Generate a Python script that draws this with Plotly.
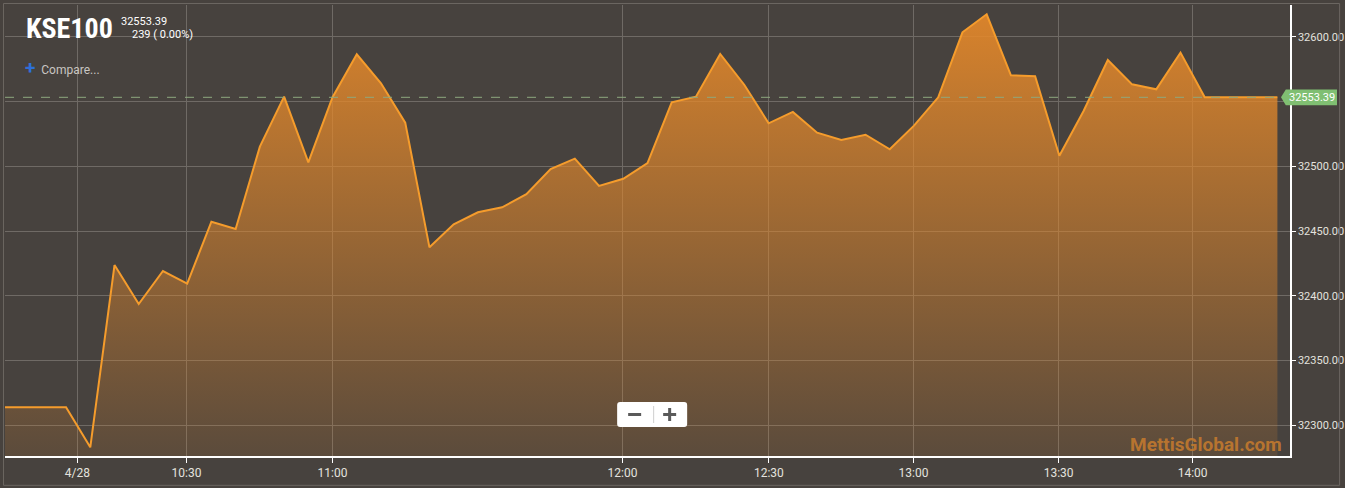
import plotly.graph_objects as go

# ---------------- data ----------------
# index positions (5-minute steps); 0 = previous close point
point_index = list(range(-3, 51))
kse_values = [
    32313.9, 32313.9, 32313.9, 32313.9,
    32283.0, 32423.8, 32393.7, 32419.2, 32409.4,
    32457.3, 32451.7, 32515.3, 32553.9, 32503.2,
    32553.5, 32586.6, 32564.2, 32533.8, 32437.5,
    32455.3, 32464.6, 32468.4, 32478.5, 32498.0,
    32506.0, 32484.9, 32490.5, 32502.6, 32549.5,
    32553.9, 32586.9, 32562.9, 32533.3, 32542.1,
    32526.1, 32520.4, 32524.5, 32513.2, 32531.5,
    32553.4, 32603.6, 32617.5, 32570.4, 32569.6,
    32508.3, 32542.8, 32582.2, 32563.4, 32559.6,
    32587.9, 32553.39, 32553.39, 32553.39, 32553.39,
]
x_tick_pos = [0.47, 4.97, 11.0, 22.97, 29.01, 34.98, 40.97, 46.5]
x_tick_labels = ["4/28", "10:30", "11:00", "12:00", "12:30", "13:00", "13:30", "14:00"]
y_tick_vals = [32300, 32350, 32400, 32450, 32500, 32550, 32600]
y_tick_labels = ["32300.00", "32350.00", "32400.00", "32450.00", "32500.00", "", "32600.00"]
last_price = 32553.39
title_text = "KSE100"
price_text = "32553.39"
change_text = "239 ( 0.00%)"
watermark = "MettisGlobal.com"

# ---------------- layout helpers ----------------
W, H = 1345, 488
PL, PR, PT, PB = 5, 1289.7, 5, 456
X_RANGE = [-2.52, 50.52]
Y_RANGE = [32276.3, 32624.7]
BG = "#47423e"
FONT = "Roboto, Arial, sans-serif"


def px(x):
    return (x - PL) / (PR - PL)


def py(y):
    return (PB - y) / (PB - PT)


fig = go.Figure()
fig.add_trace(go.Scatter(
    x=point_index, y=kse_values, mode="lines",
    line=dict(color="#f59c2c", width=2),
    fill="tozeroy",
    fillgradient=dict(
        type="vertical", start=Y_RANGE[0], stop=Y_RANGE[1],
        colorscale=[[0, "rgba(226,136,44,0.13)"], [1, "rgba(228,136,42,0.94)"]],
    ),
    hoverinfo="skip", showlegend=False,
))

shapes = []
annotations = []

# dashed last price line
shapes.append(dict(type="line", xref="paper", yref="y", x0=0, x1=1,
                   y0=last_price, y1=last_price,
                   line=dict(color="#8ea87f", width=1, dash="dash")))

# price flag on axis
fy = py(97.3)
shapes.append(dict(
    type="path", xref="paper", yref="paper",
    path=(f"M {px(1280.7)},{fy} L {px(1285.5)},{py(89.5)} L {px(1336.7)},{py(89.5)} "
          f"L {px(1336.7)},{py(105.3)} L {px(1285.5)},{py(105.3)} Z"),
    fillcolor="#80bf72", line=dict(width=0), layer="above"))
annotations.append(dict(xref="paper", yref="paper", x=px(1311.5), y=fy,
                        text=f"{last_price:.2f}", showarrow=False,
                        font=dict(family=FONT, size=11, color="#ffffff"),
                        xanchor="center", yanchor="middle"))

# outer border
shapes.append(dict(type="rect", xref="paper", yref="paper",
                   x0=px(3.5), x1=px(1339.3), y0=py(485.3), y1=py(3.5),
                   line=dict(color="#6b6661", width=1), fillcolor="rgba(0,0,0,0)"))

# zoom control
x0, x1, y0, y1, r = 617, 687, 402, 427, 3
shapes.append(dict(
    type="path", xref="paper", yref="paper",
    path=(f"M {px(x0 + r)},{py(y0)} L {px(x1 - r)},{py(y0)} Q {px(x1)},{py(y0)} {px(x1)},{py(y0 + r)} "
          f"L {px(x1)},{py(y1 - r)} Q {px(x1)},{py(y1)} {px(x1 - r)},{py(y1)} "
          f"L {px(x0 + r)},{py(y1)} Q {px(x0)},{py(y1)} {px(x0)},{py(y1 - r)} "
          f"L {px(x0)},{py(y0 + r)} Q {px(x0)},{py(y0)} {px(x0 + r)},{py(y0)} Z"),
    fillcolor="#ffffff", line=dict(width=0), layer="above"))
shapes.append(dict(type="line", xref="paper", yref="paper", x0=px(653.5), x1=px(653.5),
                   y0=py(406), y1=py(423), line=dict(color="#cfcfcf", width=1)))
shapes.append(dict(type="line", xref="paper", yref="paper", x0=px(628), x1=px(641),
                   y0=py(414.5), y1=py(414.5), line=dict(color="#5a5a5a", width=3)))
shapes.append(dict(type="line", xref="paper", yref="paper", x0=px(663), x1=px(676),
                   y0=py(414.5), y1=py(414.5), line=dict(color="#5a5a5a", width=3)))
shapes.append(dict(type="line", xref="paper", yref="paper", x0=px(669.5), x1=px(669.5),
                   y0=py(408), y1=py(421), line=dict(color="#5a5a5a", width=3)))

# title and header texts
annotations.append(dict(xref="paper", yref="paper", x=px(24), y=py(28),
                        text=f"<b>{title_text}</b>", showarrow=False,
                        font=dict(family="Liberation Sans Narrow, Roboto Condensed, Roboto", size=28, color="#ffffff"),
                        xanchor="left", yanchor="middle"))
annotations.append(dict(xref="paper", yref="paper", x=px(119), y=py(21),
                        text=price_text, showarrow=False,
                        font=dict(family=FONT, size=11, color="#ffffff"),
                        xanchor="left", yanchor="middle"))
annotations.append(dict(xref="paper", yref="paper", x=px(130), y=py(34),
                        text=change_text, showarrow=False,
                        font=dict(family=FONT, size=11, color="#ffffff"),
                        xanchor="left", yanchor="middle"))
annotations.append(dict(xref="paper", yref="paper", x=px(23), y=py(67),
                        text="<span style='color:#2f6fd8;font-size:19px'><b>+</b></span>  Compare...",
                        showarrow=False,
                        font=dict(family=FONT, size=12, color="#c9c6c2"),
                        xanchor="left", yanchor="middle"))
annotations.append(dict(xref="paper", yref="paper", x=px(1284), y=py(444),
                        text=f"<b>{watermark}</b>", showarrow=False,
                        font=dict(family=FONT, size=19, color="rgba(196,122,46,0.9)"),
                        xanchor="right", yanchor="middle"))

fig.update_layout(
    width=W, height=H, autosize=False,
    margin=dict(l=PL, r=W - PR, t=PT, b=H - PB, pad=0),
    paper_bgcolor=BG, plot_bgcolor=BG,
    shapes=shapes, annotations=annotations,
    xaxis=dict(range=X_RANGE, tickmode="array", tickvals=x_tick_pos, ticktext=x_tick_labels,
               showgrid=True, gridcolor="#6f6a65", gridwidth=1, zeroline=False,
               showline=True, linecolor="#ffffff", linewidth=1.5, automargin=False,
               ticks="outside", ticklen=5, tickcolor="#ffffff", tickwidth=1,
               tickfont=dict(family=FONT, size=12, color="#e4e2df")),
    yaxis=dict(range=Y_RANGE, side="right", tickmode="array", tickvals=y_tick_vals,
               ticktext=y_tick_labels, automargin=False,
               showgrid=True, gridcolor="#6f6a65", gridwidth=1, zeroline=False,
               showline=True, linecolor="#ffffff", linewidth=1.5,
               ticks="outside", ticklen=4, tickcolor="#ffffff", tickwidth=1,
               tickfont=dict(family=FONT, size=11, color="#e4e2df")),
)

fig.write_html(
    "out.html",
    config={"displayModeBar": False},
    post_script="document.body.style.margin='0';document.body.style.padding='0';document.body.style.overflow='hidden';",
)
